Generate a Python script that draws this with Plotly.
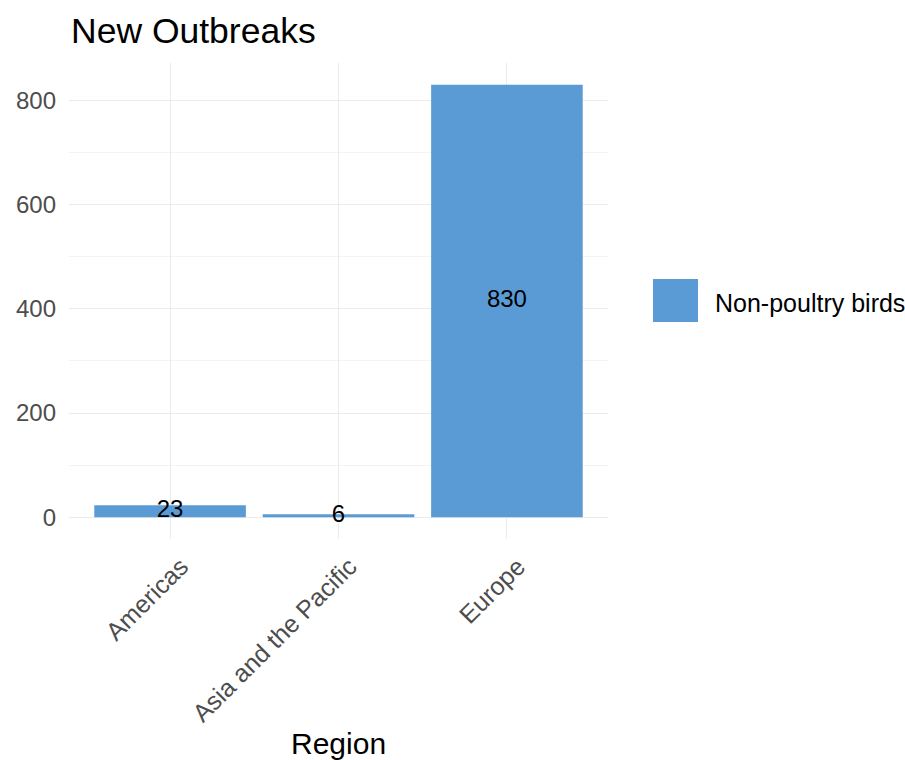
import plotly.graph_objects as go

regions = ["Americas", "Asia and the Pacific", "Europe"]
outbreaks = [23, 6, 830]
series_name = "Non-poultry birds"
y_ticks = [0, 200, 400, 600, 800]

bar_color = "#5B9BD5"
W, H = 905, 760
L, R, T, B = 69, 608, 63, 539
FONT = "Liberation Sans, Arial"

fig = go.Figure()
fig.add_trace(go.Bar(x=regions, y=outbreaks, marker=dict(color=bar_color, line=dict(width=0)),
                     width=0.9, showlegend=False, hoverinfo="skip"))
fig.add_trace(go.Scatter(x=regions, y=[v / 2 for v in outbreaks], mode="text",
                         text=[str(v) for v in outbreaks],
                         textfont=dict(family=FONT, size=24, color="black"),
                         showlegend=False, hoverinfo="skip"))

ymax = max(outbreaks)
pad = ymax * 0.05
fig.update_layout(
    width=W, height=H,
    margin=dict(l=L, r=W - R, t=T, b=H - B, pad=0),
    plot_bgcolor="white", paper_bgcolor="white",
    font=dict(family=FONT, color="#4d4d4d"),
    title=dict(text="New Outbreaks", x=71 / W, xref="container", xanchor="left",
               y=1 - 31 / H, yref="container", yanchor="middle",
               font=dict(size=35.5, color="black")),
    bargap=0.1,
    xaxis=dict(range=[-0.6, len(regions) - 0.4], showgrid=True, gridcolor="#ebebeb", gridwidth=1.1,
               tickangle=-45, tickfont=dict(size=25, color="#4d4d4d"), zeroline=False,
               showline=False, ticks="", ticklabelstandoff=7, ticklabelshift=11),
    yaxis=dict(range=[-pad, ymax + pad], tickvals=y_ticks, showgrid=True, gridcolor="#ebebeb",
               gridwidth=1.1, zeroline=False, showline=False, ticks="",
               tickfont=dict(size=24, color="#4d4d4d"), ticklabelstandoff=12,
               minor=dict(tickvals=[100, 300, 500, 700], showgrid=True, gridcolor="#f3f3f3", gridwidth=0.6)),
)

fig.add_annotation(text="Region", xref="paper", yref="paper", x=0.5, y=-(743 - B) / (B - T),
                   xanchor="center", yanchor="middle", showarrow=False,
                   font=dict(size=30, color="black"))

# legend key
fig.add_shape(type="rect", xref="paper", yref="paper",
              x0=(653 - L) / (R - L), x1=(698 - L) / (R - L),
              y0=(B - 322) / (B - T), y1=(B - 279) / (B - T),
              fillcolor=bar_color, line=dict(width=0))
fig.add_annotation(text=series_name, xref="paper", yref="paper",
                   x=(713 - L) / (R - L), y=(B - 303) / (B - T),
                   xanchor="left", yanchor="middle", showarrow=False,
                   font=dict(size=25, color="black"))

fig.write_html("out.html")
